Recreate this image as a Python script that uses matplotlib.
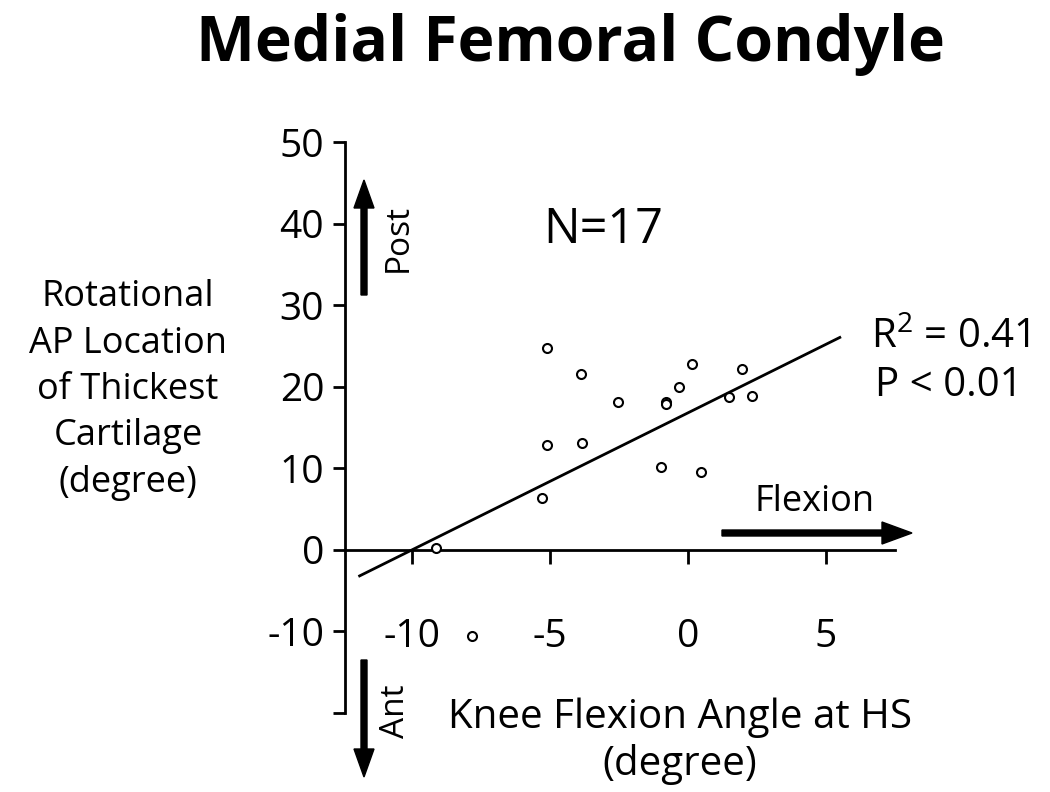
import matplotlib
matplotlib.use("Agg")
import matplotlib.pyplot as plt
import numpy as np

# ---- data ----
flexion_angle = [-5.10, -3.89, -2.53, -0.80, -0.80, -0.34, 0.13, 1.95, 1.48, 2.32,
                 -5.10, -3.83, -0.99, 0.48, -5.30, -9.13, -7.83]
ap_location = [24.7, 21.6, 18.1, 18.1, 17.9, 20.0, 22.8, 22.2, 18.8, 18.9,
               12.8, 13.1, 10.1, 9.5, 6.3, 0.2, -10.5]
fit_slope = 1.68
fit_intercept = 16.8
fit_range = [-11.9, 5.5]
x_ticks = [-10, -5, 0, 5]
y_ticks = [-20, -10, 0, 10, 20, 30, 40, 50]
y_tick_labels = ["", "-10", "0", "10", "20", "30", "40", "50"]

plt.rcParams['font.family'] = ['Open Sans', 'DejaVu Sans']
plt.rcParams['mathtext.fontset'] = 'custom'
plt.rcParams['mathtext.rm'] = 'Open Sans'
plt.rcParams['mathtext.it'] = 'Open Sans'

W, H = 1050, 792
fig = plt.figure(figsize=(W / 100, H / 100), dpi=100)

def fx(px):
    return px / W

def fy(py):
    return 1 - py / H

ax = fig.add_axes([fx(345), fy(713), (895 - 345) / W, (713 - 142) / H])
ax.set_xlim(-12.43, 7.5)
ax.set_ylim(-20, 50)

ax.scatter(flexion_angle, ap_location, s=42, facecolors='white',
           edgecolors='black', linewidths=1.5, zorder=3)
fx_line = np.array(fit_range)
ax.plot(fx_line, fit_slope * fx_line + fit_intercept, color='black', lw=2, zorder=2)

for s in ['top', 'right']:
    ax.spines[s].set_visible(False)
ax.spines['left'].set_linewidth(2)
ax.spines['bottom'].set_position(('data', 0))
ax.spines['bottom'].set_linewidth(2)

ax.set_yticks(y_ticks)
ax.set_yticklabels(y_tick_labels)
ax.set_xticks(x_ticks)
ax.set_xticklabels([str(v) for v in x_ticks])
ax.tick_params(axis='y', direction='out', length=9, width=2, labelsize=28, pad=6)
ax.tick_params(axis='x', direction='out', length=10, width=2, labelsize=28, pad=39)

# title
fig.text(fx(570), fy(45), "Medial Femoral Condyle", ha='center', va='center',
         fontsize=45, fontweight='bold')

# N
fig.text(fx(603), fy(230), "N=17", ha='center', va='center', fontsize=35)

# R2 / P
fig.text(fx(951), fy(338), r"R$^{2}$ = 0.41", ha='center', va='center', fontsize=29)
fig.text(fx(949), fy(386), "P < 0.01", ha='center', va='center', fontsize=29)

# y label
fig.text(fx(128), fy(390),
         "Rotational\nAP Location\nof Thickest\nCartilage\n(degree)",
         ha='center', va='center', fontsize=26, linespacing=1.38)

# x label
fig.text(fx(680), fy(741), "Knee Flexion Angle at HS\n(degree)",
         ha='center', va='center', fontsize=29, linespacing=1.2)

# Flexion arrow
fig.text(fx(815), fy(502), "Flexion", ha='center', va='center', fontsize=26)
fig.add_artist(matplotlib.patches.FancyArrow(
    fx(722), fy(533), fx(912) - fx(722), 0, width=6 / H, head_width=22 / H,
    head_length=30 / W, length_includes_head=True, color='black',
    transform=fig.transFigure))

# Post arrow
fig.add_artist(matplotlib.patches.FancyArrow(
    fx(364), fy(295), 0, fy(180) - fy(295), width=6 / W, head_width=20 / W,
    head_length=28 / H, length_includes_head=True, color='black',
    transform=fig.transFigure))
fig.text(fx(398), fy(238), "Post", ha='center', va='center', fontsize=24, rotation=90)

# Ant arrow
fig.add_artist(matplotlib.patches.FancyArrow(
    fx(364), fy(660), 0, fy(777) - fy(660), width=6 / W, head_width=20 / W,
    head_length=28 / H, length_includes_head=True, color='black',
    transform=fig.transFigure))
fig.text(fx(396), fy(711), "Ant", ha='center', va='center', fontsize=24, rotation=90)

fig.savefig("out.png", dpi=100)
